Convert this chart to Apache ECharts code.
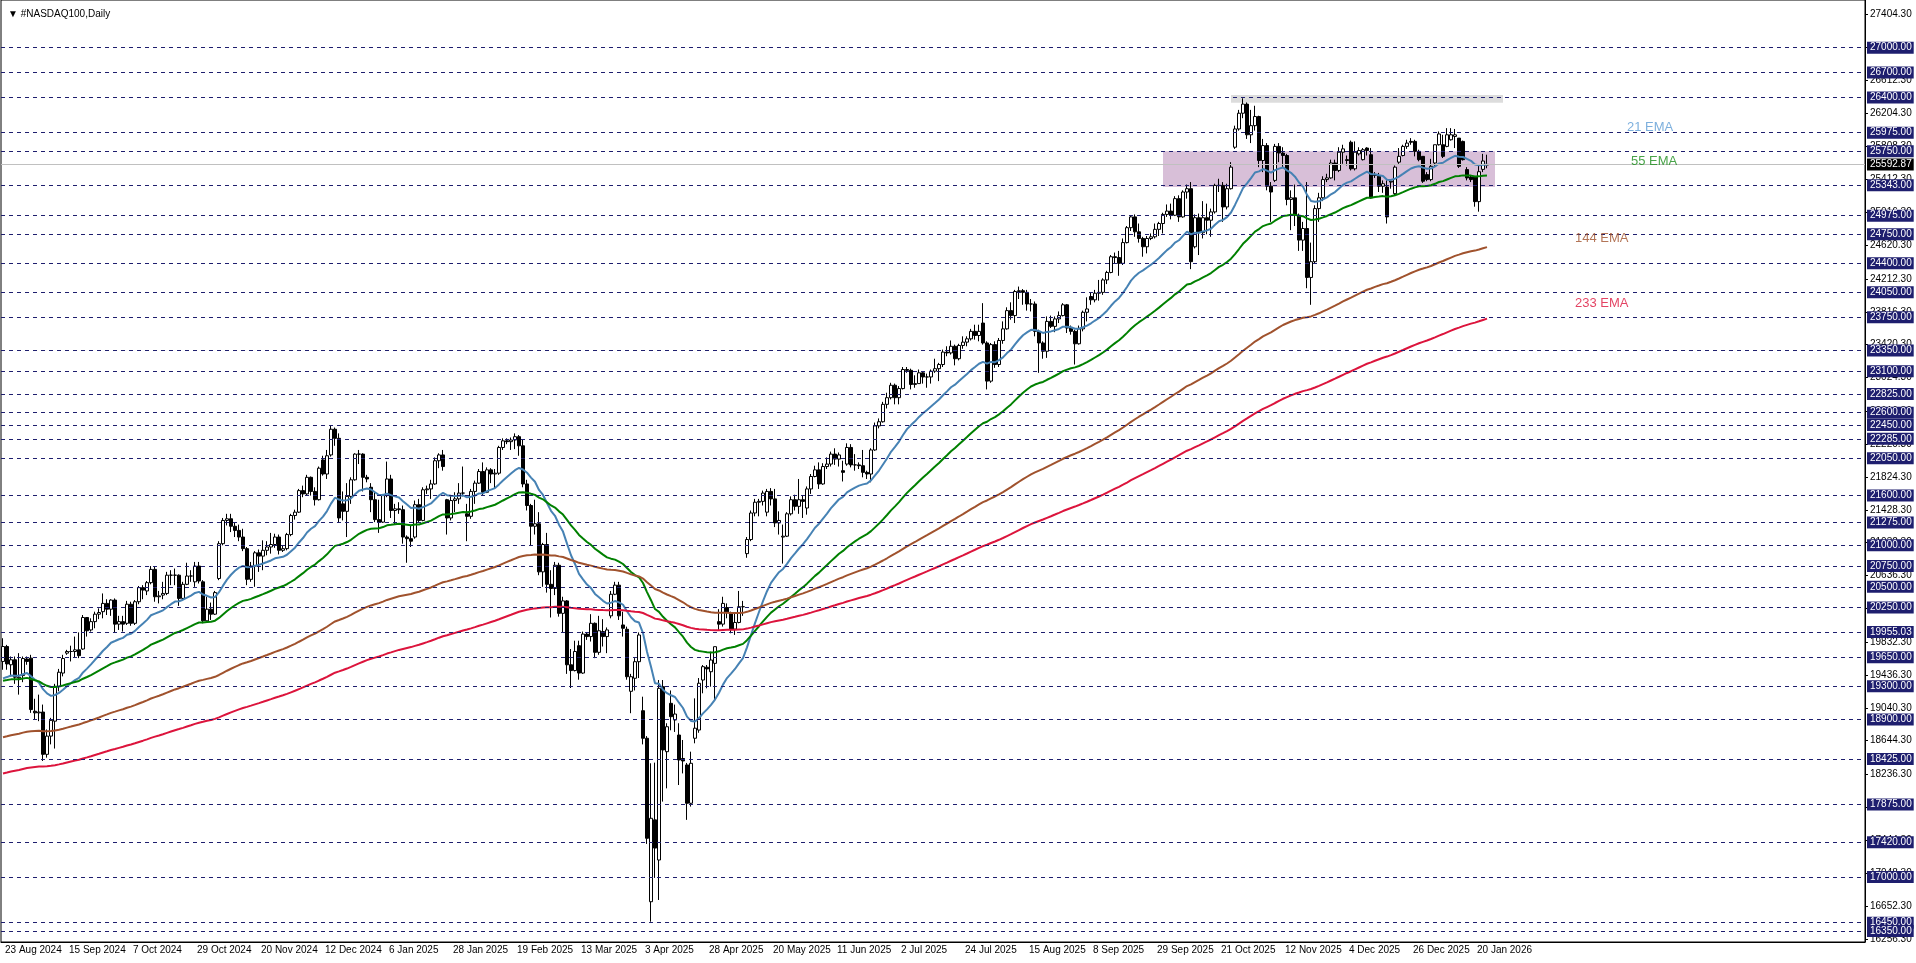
<!DOCTYPE html>
<html><head><meta charset="utf-8">
<script src="https://cdn.jsdelivr.net/npm/echarts@6/dist/echarts.min.js"></script>
<style>html,body{margin:0;padding:0;background:#fff;overflow:hidden}#c{width:1916px;height:963px}</style>
</head><body><div id="c"></div>
<script>
// ---------------- DATA ----------------
const chartTitle = '#NASDAQ100,Daily';
const tickDates = ['23 Aug 2024','15 Sep 2024','7 Oct 2024','29 Oct 2024','20 Nov 2024','12 Dec 2024','6 Jan 2025','28 Jan 2025','19 Feb 2025','13 Mar 2025','3 Apr 2025','28 Apr 2025','20 May 2025','11 Jun 2025','2 Jul 2025','24 Jul 2025','15 Aug 2025','8 Sep 2025','29 Sep 2025','21 Oct 2025','12 Nov 2025','4 Dec 2025','26 Dec 2025','20 Jan 2026'];
const priceTicks = [27404.3,27008.3,26612.3,26204.3,25808.3,25412.3,25016.3,24620.3,24212.3,23816.3,23420.3,23024.3,22616.3,22220.3,21824.3,21428.3,21032.3,20636.3,20240.3,19832.3,19436.3,19040.3,18644.3,18236.3,17840.3,17444.3,17048.3,16652.3,16256.3];
const levels = [27000,26700,26400,25975,25750,25343,24975,24750,24400,24050,23750,23350,23100,22825,22600,22450,22285,22050,21600,21275,21000,20750,20500,20250,19955.03,19650,19300,18900,18425,17875,17420,17000,16450,16350];
const lastPrice = 25592.87;
// zones: [fromBar, toBar, low, high]
const zoneRange = [290, 373, 25320, 25750];
const zoneTop = [307, 375, 26337, 26430];
// EMA periods and their values at the first bar
const emaPeriods = [21, 55, 144, 233];
const emaStart = [19396, 19368, 18685, 18250];
const emaNames = ['21 EMA', '55 EMA', '144 EMA', '233 EMA'];
const emaTextBar = [406, 407, 393, 393];
const emaTextPrice = [26035, 25630, 24702, 23922];

// candles: [open, close, low, high], 16 bars per date label
const seg00 = [[19600,19780,19500,19880],[19780,19570,19500,19800],[19560,19620,19420,19660],[19620,19410,19330,19660],[19400,19410,19200,19700],[19430,19635,19350,19660],[19630,19600,19560,19660],[19640,19020,18980,19680],[19000,18980,18900,19150],[18980,18990,18880,19200],[18990,18480,18400,19080],[18480,18700,18440,18780],[18700,18890,18600,18920],[18880,19300,18550,19330],[19300,19470,19240,19510],[19460,19635,19420,19680]];
const seg01 = [[19700,19720,19680,19740],[19720,19720,19600,19790],[19720,19740,19650,19900],[19740,19670,19640,19950],[19750,20130,19740,20160],[20130,19970,19900,20130],[19980,20080,19960,20120],[20080,20170,20000,20200],[20170,20190,20110,20240],[20200,20300,20120,20420],[20300,20230,20160,20350],[20230,20340,20150,20350],[20340,20050,19950,20360],[20050,20080,19980,20150],[20080,20050,19960,20150],[20060,20290,20040,20330]];
const seg02 = [[20290,20060,20030,20320],[20060,20320,20040,20340],[20320,20490,20290,20510],[20490,20460,20350,20520],[20450,20550,20400,20570],[20550,20710,20530,20750],[20710,20380,20320,20740],[20380,20390,20300,20450],[20400,20420,20350,20560],[20420,20640,20400,20680],[20640,20640,20520,20700],[20640,20640,20520,20720],[20640,20360,20270,20650],[20360,20530,20330,20560],[20530,20630,20520,20790],[20630,20630,20560,20700]];
const seg03 = [[20560,20750,20500,20800],[20750,20570,20540,20800],[20560,20090,20060,20580],[20090,20230,20080,20380],[20230,20170,20100,20310],[20170,20430,20160,20450],[20600,21020,20580,21050],[21020,21300,21000,21330],[21300,21320,21240,21380],[21320,21230,21160,21380],[21230,21180,21100,21280],[21180,21100,21050,21250],[21100,20960,20930,21200],[20960,20590,20520,20980],[20590,20750,20560,20800],[20750,20910,20500,20930]];
const seg04 = [[20910,20870,20680,20950],[20870,20940,20700,21060],[20940,20980,20880,21050],[20980,21010,20900,21150],[21010,21100,20970,21140],[21100,20940,20890,21130],[20940,20960,20920,21000],[20960,21130,20940,21150],[21130,21360,21110,21380],[21360,21400,21310,21430],[21400,21660,21390,21680],[21660,21620,21580,21720],[21620,21820,21600,21850],[21820,21650,21600,21830],[21650,21550,21480,21700],[21550,21930,21540,21950]];
const seg05 = [[22030,21860,21840,22080],[21860,22080,21800,22150],[22090,22400,22070,22440],[22400,22290,22200,22420],[22290,21330,21280,22350],[21500,21410,21300,21650],[21410,21590,21100,21750],[21590,21790,21500,21820],[21790,22100,21780,22110],[22100,22100,21980,22150],[22100,21820,21650,22110],[21820,21800,21760,21850],[21700,21550,21400,21750],[21550,21310,21280,21650],[21310,21280,21150,21550],[21280,21600,21270,21620]];
const seg06 = [[21600,21800,21580,22010],[21800,21420,21330,21850],[21420,21440,21250,21500],[21440,21430,21380,21520],[21430,21100,21020,21480],[21100,21080,20790,21120],[21080,21050,20980,21240],[21100,21490,21080,21540],[21490,21300,21280,21560],[21300,21670,21290,21700],[21670,21680,21620,21720],[21680,21740,21560,21790],[21740,22020,21730,22060],[22020,22090,21930,22110],[22090,21950,21900,22150],[21550,21330,21130,21560]];
const seg07 = [[21330,21540,21300,21600],[21540,21560,21400,21640],[21560,21630,21500,21750],[21630,21630,21590,21950],[21380,21350,21050,21500],[21350,21650,21320,21680],[21650,21750,21500,21780],[21750,21890,21740,21920],[21890,21640,21600,22000],[21640,21910,21630,21940],[21910,21860,21750,21930],[21860,21870,21680,21920],[21870,22180,21850,22200],[22180,22260,22150,22290],[22260,22250,22220,22290],[22250,22270,22150,22300]];
const seg08 = [[22270,22310,22160,22350],[22310,22200,22080,22330],[22200,21740,21700,22280],[21740,21480,21420,21790],[21480,21230,21000,21500],[21230,21260,21130,21550],[21260,20680,20640,21400],[20680,21010,20500,21030],[21010,20530,20430,21150],[20530,20480,20130,20700],[20480,20760,20400,20800],[20760,20180,20140,20790],[20180,20330,19950,20380],[20330,19560,19450,20340],[19560,19490,19280,19750],[19490,19720,19480,19850]];
const seg09 = [[19790,19460,19380,19850],[19460,19930,19450,19960],[19930,19900,19860,19950],[19900,20060,19840,20170],[20060,19710,19640,20070],[19710,19970,19680,20150],[19960,19900,19780,20110],[19900,19980,19700,20010],[20150,20410,20120,20450],[20410,20520,20400,20560],[20520,20150,20100,20560],[20040,20000,19900,20200],[19988,19416,19380,20020],[19240,19416,18976,19450],[19397,19597,19250,19640],[19597,19919,19400,19950]];
const seg10 = [[19006,18674,18600,19175],[18674,17468,17400,18700],[16703,17709,16462,18372],[17690,17350,16990,18380],[17206,19276,16724,19376],[19296,18533,17910,19376],[18512,18813,18070,18855],[19095,18934,18770,19250],[18894,18966,18750,19080],[18713,18412,18110,18855],[18430,18400,18250,18653],[18352,17890,17690,18376],[17890,18372,17850,18512],[18674,18795,18613,19155],[18773,19337,18740,19400],[19376,19537,19216,19557]];
const seg11 = [[19530,19510,19276,19557],[19476,19617,19296,19718],[19577,19778,19135,19778],[20080,20050,19970,20230],[20050,20300,20020,20380],[20250,20190,20120,20300],[20190,19990,19940,20200],[19990,20070,19920,20180],[20070,20260,20060,20450],[20260,20260,20150,20330],[20900,21070,20850,21100],[21070,21390,21050,21420],[21390,21520,21350,21560],[21520,21530,21350,21560],[21530,21630,21480,21660],[21400,21650,21350,21680]];
const seg12 = [[21650,21560,21480,21690],[21560,21270,21220,21680],[21270,21300,21130,21410],[21100,21110,20780,21250],[21110,21380,21100,21400],[21380,21550,21360,21590],[21550,21470,21420,21610],[21470,21550,21380,21800],[21550,21530,21330,21600],[21450,21680,21370,21710],[21680,21830,21620,21860],[21830,21910,21820,21960],[21910,21740,21680,22000],[21740,21950,21730,21990],[21950,21980,21920,22060],[21980,22100,21950,22130]];
const seg13 = [[22100,22040,21970,22170],[22040,22090,21950,22120],[21900,21880,21770,22020],[21980,22180,21960,22230],[22180,21970,21940,22220],[21970,21970,21900,22100],[21970,21960,21920,22000],[21960,21880,21820,22150],[21880,21860,21800,21900],[21860,22150,21760,22170],[22150,22440,22140,22480],[22440,22490,22410,22530],[22490,22700,22480,22730],[22700,22780,22650,22840],[22780,22930,22760,22960],[22930,22780,22700,22950]];
const seg14 = [[22780,22890,22700,22920],[22890,23120,22880,23150],[23120,23110,23080,23150],[23110,22940,22880,23130],[22940,22950,22900,23050],[22950,23080,22950,23120],[23080,23030,22950,23100],[23030,23030,22900,23070],[23030,23100,22950,23120],[23100,23130,23080,23250],[23130,23180,22980,23200],[23180,23330,23150,23360],[23330,23320,23280,23400],[23320,23400,23300,23470],[23400,23250,23170,23420],[23250,23410,23230,23430]];
const seg15 = [[23410,23450,23370,23520],[23450,23490,23400,23520],[23490,23580,23470,23610],[23580,23530,23480,23660],[23530,23580,23460,23660],[23680,23440,23420,23920],[23440,22980,22880,23460],[22980,23420,22960,23440],[23420,23180,23140,23460],[23180,23470,23150,23500],[23470,23610,23430,23700],[23610,23830,23600,23870],[23830,23770,23720,23930],[23770,24060,23680,24080],[24060,24070,23970,24120],[24070,24050,23900,24090]];
const seg16 = [[24050,23910,23830,24080],[23910,23910,23820,23970],[23910,23580,23520,23940],[23580,23440,23080,23600],[23440,23340,23250,23460],[23340,23700,23260,23760],[23700,23640,23620,23770],[23640,23730,23570,23760],[23730,23770,23680,23820],[23770,23900,23760,23920],[23900,23620,23560,23910],[23620,23580,23540,23650],[23580,23430,23180,23600],[23430,23610,23420,23650],[23610,23810,23580,23830],[23810,23850,23700,23990]];
const seg17 = [[24000,23960,23900,24050],[23960,24040,23930,24080],[24040,24050,23950,24200],[24050,24200,24020,24220],[24200,24290,24150,24310],[24290,24480,24280,24500],[24480,24470,24400,24530],[24470,24400,24250,24550],[24400,24650,24380,24700],[24650,24830,24640,24850],[24830,24960,24790,24980],[24960,24780,24720,24990],[24780,24700,24650,24880],[24700,24600,24480,24720],[24600,24700,24520,24730],[24700,24720,24680,24760]];
const seg18 = [[24720,24810,24700,24880],[24810,24880,24730,24900],[24880,24990,24760,25010],[24990,25030,24960,25110],[25030,24980,24930,25120],[24980,25180,24970,25210],[25180,24960,24900,25220],[24960,25260,24950,25280],[25260,25300,25180,25350],[25300,24420,24330,25380],[24600,24950,24580,24990],[24950,24770,24500,25000],[24770,24950,24700,25150],[24950,24920,24750,25120],[24920,25020,24720,25060],[25020,25340,25000,25360]];
const seg19 = [[25340,25340,25260,25420],[25340,25080,24900,25380],[25080,25300,25050,25360],[25300,25560,25290,25620],[25800,26020,25780,26060],[26020,26210,26000,26250],[26210,26320,26150,26390],[26320,25950,25900,26340],[25950,26060,25850,26250],[26060,26170,26000,26300],[26170,25640,25560,26180],[25640,25820,25500,25900],[25820,25330,25280,25850],[25330,25260,24900,25380],[25400,25810,25380,25840],[25810,25730,25620,25850]];
const seg20 = [[25730,25700,25550,25800],[25700,25170,25100,25720],[25170,25190,24800,25280],[25190,24980,24850,25350],[24980,24680,24550,25000],[24680,24820,24550,24900],[24820,24230,24100,25380],[24230,24420,23900,24650],[24420,25060,24400,25100],[25060,25190,24900,25250],[25190,25410,25150,25450],[25410,25430,25380,25480],[25430,25610,25420,25650],[25610,25520,25400,25650],[25520,25740,25500,25800],[25740,25780,25600,25830]];
const seg21 = [[25650,25640,25580,25700],[25860,25540,25520,25880],[25540,25740,25520,25870],[25720,25760,25700,25800],[25650,25770,25640,25790],[25790,25760,25700,25800],[25710,25190,25180,25790],[25470,25460,25430,25500],[25450,25330,25260,25490],[25330,25360,25250,25400],[25320,24960,24880,25400],[25380,25390,25300,25410],[25240,25560,25220,25580],[25620,25690,25600,25790],[25700,25810,25690,25830],[25810,25850,25780,25890]];
const seg22 = [[25870,25860,25830,25910],[25870,25750,25690,25890],[25750,25650,25630,25770],[25690,25390,25370,25690],[25470,25410,25390,25500],[25410,25570,25390,25660],[25610,25830,25570,25830],[25830,25960,25820,25990],[25830,25690,25670,25950],[25810,25950,25800,26030],[25890,25950,25880,26030],[25930,25950,25790,26020],[25910,25570,25550,25910],[25870,25650,25640,25880],[25530,25430,25400,25560],[25440,25410,25380,25460]];
const seg23 = [[25445,25144,25083,25445],[25144,25505,25023,25590],[25533,25634,25500,25720],[25586,25592.87,25546,25710]];

// ---------------- BUILD ----------------
const candles = [].concat(seg00,seg01,seg02,seg03,seg04,seg05,seg06,seg07,seg08,seg09,seg10,seg11,seg12,seg13,seg14,seg15,seg16,seg17,seg18,seg19,seg20,seg21,seg22,seg23);
const closes = candles.map(r => r[1]);
function emaOf(period, start) {
  const k = 2 / (period + 1);
  const out = [];
  let e = start;
  closes.forEach((c, i) => { if (i > 0) e = e + k * (c - e); out.push(+e.toFixed(2)); });
  return out;
}
const NCAT = 466;
const cats = Array.from({length: NCAT}, (_, i) => String(i));
const emaColors = ['#4682B4', '#008000', '#A0522D', '#DC143C'];
const emaTextColors = ['#5B9BD5', '#1A8C1A', '#A0522D', '#DC143C'];
const FONT = 'Liberation Sans, Arial, sans-serif';
const NAVY = '#1E1E6E';

const series = [];
series.push({
  type: 'line', data: [], z: 1, silent: true,
  markArea: {
    silent: true,
    data: [
      [{xAxis: String(zoneRange[0]), yAxis: zoneRange[2], itemStyle: {color: '#D8BFD8'}}, {xAxis: String(zoneRange[1]), yAxis: zoneRange[3]}],
      [{xAxis: String(zoneTop[0]), yAxis: zoneTop[2], itemStyle: {color: '#DCDCDC'}}, {xAxis: String(zoneTop[1]), yAxis: zoneTop[3]}]
    ]
  },
  markLine: {
    silent: true, symbol: ['none', 'none'], animation: false,
    lineStyle: {color: NAVY, type: [4, 4], width: 1},
    label: {show: true, position: 'end', distance: 2, formatter: p => Number(p.value).toFixed(2),
      backgroundColor: NAVY, color: '#FFFFFF', fontSize: 10, fontFamily: FONT, padding: [1, 2, 0, 3], lineHeight: 11},
    data: levels.map(v => ({yAxis: v})).concat([{yAxis: lastPrice,
      lineStyle: {color: '#C0C0C0', type: 'solid', width: 1},
      label: {backgroundColor: '#000000', color: '#FFFFFF'}}])
  }
});
series.push({
  type: 'candlestick', z: 3, barWidth: 3, silent: true,
  data: candles,
  itemStyle: {color: '#FFFFFF', color0: '#000000', borderColor: '#000000', borderColor0: '#000000', borderWidth: 1}
});
emaPeriods.forEach((p, j) => {
  series.push({
    type: 'line', z: 4, silent: true, symbol: 'none', smooth: false,
    data: emaOf(p, emaStart[j]),
    lineStyle: {color: emaColors[j], width: 2}
  });
});
series.push({
  type: 'scatter', z: 5, silent: true, symbolSize: 0,
  data: emaNames.map((n, j) => ({value: [String(emaTextBar[j]), emaTextPrice[j]],
    label: {show: true, position: 'right', distance: 0, formatter: n, color: emaTextColors[j], fontSize: 13, fontFamily: FONT}}))
});

const chart = echarts.init(document.getElementById('c'), null, {renderer: 'canvas'});
chart.setOption({
  animation: false,
  backgroundColor: '#FFFFFF',
  title: {text: '\u25BC ' + chartTitle, left: 3, top: 4, textStyle: {fontSize: 10, fontWeight: 'normal', color: '#000', fontFamily: FONT}},
  grid: {left: 1, right: 51, top: 0, bottom: 21, show: true, borderColor: '#000', borderWidth: 1, backgroundColor: 'transparent'},
  xAxis: {
    type: 'category', data: cats, boundaryGap: true,
    axisLine: {lineStyle: {color: '#000', width: 1}},
    axisTick: {alignWithLabel: true, length: 4, lineStyle: {color: '#000'}, interval: (i) => i % 16 === 0 && i / 16 < tickDates.length},
    axisLabel: {interval: (i) => i % 16 === 0 && i / 16 < tickDates.length, formatter: (v, i) => tickDates[i / 16] || '',
      align: 'left', margin: 3, padding: [0, 0, 0, 2], color: '#000', fontSize: 10, fontFamily: FONT},
    splitLine: {show: false}
  },
  yAxis: {
    type: 'value', position: 'right', min: 16217.4, max: 27575.1, scale: true,
    axisLine: {show: true, lineStyle: {color: '#000', width: 1}},
    axisTick: {show: true, length: 3, inside: false, customValues: priceTicks, lineStyle: {color: '#000'}},
    axisLabel: {show: true, customValues: priceTicks, formatter: v => Number(v).toFixed(2), margin: 5, color: '#000', fontSize: 10, fontFamily: FONT, hideOverlap: false},
    splitLine: {show: false}
  },
  series: series
});
</script>
</body></html>
